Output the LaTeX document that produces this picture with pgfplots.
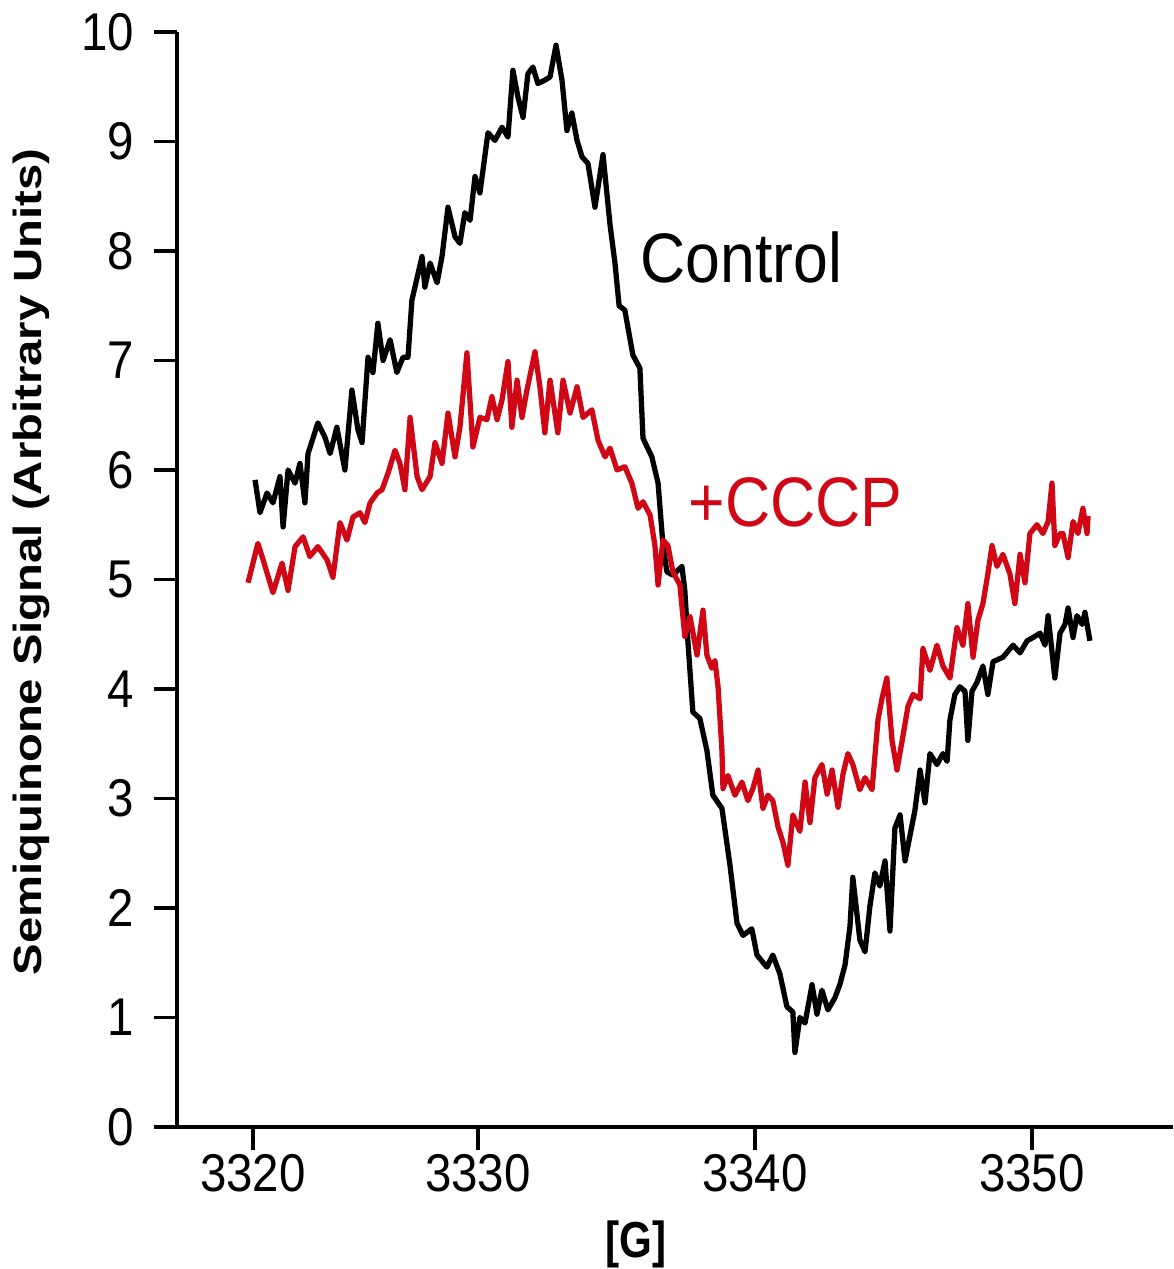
\documentclass[border=0pt]{standalone}
\usepackage{fontspec}
\setmainfont{Liberation Sans}
\usepackage{graphicx}
\usepackage{pgfplots}
\pgfplotsset{compat=1.18}
\definecolor{cccp}{RGB}{208,8,22}
\newcommand{\st}[1]{\scalebox{1}[1.12]{#1}}
\begin{document}
\begin{tikzpicture}
\begin{axis}[
  name=ax,
  scale only axis, width=9.96cm, height=10.95cm,
  xmin=3317.074, xmax=3355.43, ymin=0, ymax=10,
  axis x line*=bottom, axis y line*=left,
  axis line style={line width=1.1pt},
  every tick/.style={line width=1.1pt, black},
  tick align=outside, major tick length=2.3mm,
  xtick={3320,3328.664,3339.33,3350},
  xticklabels={\st{3320},\st{3330},\st{3340},\st{3350}},
  ytick={0,1,2,3,4,5,6,7,8,9,10},
  yticklabels={\st{0},\st{1},\st{2},\st{3},\st{4},\st{5},\st{6},\st{7},\st{8},\st{9},\st{10}},
  tick label style={font=\fontsize{13.5}{15}\selectfont, inner sep=0pt},
  yticklabel style={xshift=-1.9mm},
  xticklabel style={yshift=-0.4mm},
  every axis y label/.style={at={(axis description cs:-0.165,0.516)}, rotate=90, anchor=north, inner sep=0pt},
  ylabel={\scalebox{1.2}[1]{\fontsize{11.2}{13}\selectfont\bfseries Semiquinone Signal (Arbitrary Units)}},
  every axis x label/.style={at={(axis description cs:0.4608,0)}, anchor=north, yshift=-9.3mm, inner sep=0pt},
  xlabel={\scalebox{1}[1.2]{\fontsize{12}{14}\selectfont\bfseries [G]}},
  clip=false,
]
\addplot[black, line width=1.5pt, line join=round] coordinates {
(3320.08,5.91)(3320.27,5.61)(3320.54,5.79)(3320.77,5.70)(3321.04,5.94)(3321.16,5.48)(3321.35,6.00)(3321.62,5.88)(3321.81,6.06)(3322.00,5.70)(3322.12,6.15)(3322.50,6.43)(3322.77,6.30)(3322.97,6.15)(3323.23,6.39)(3323.54,6.00)(3323.81,6.73)(3324.04,6.37)(3324.20,6.25)(3324.43,7.03)(3324.62,6.89)(3324.81,7.34)(3325.01,7.00)(3325.28,7.19)(3325.54,6.89)(3325.78,7.03)(3325.97,7.03)(3326.12,7.55)(3326.51,7.95)(3326.62,7.67)(3326.82,7.89)(3327.09,7.71)(3327.28,7.95)(3327.51,8.40)(3327.78,8.13)(3327.97,8.07)(3328.16,8.35)(3328.36,8.28)(3328.55,8.68)(3328.74,8.53)(3329.05,9.08)(3329.32,9.01)(3329.59,9.13)(3329.82,9.04)(3330.01,9.65)(3330.20,9.41)(3330.40,9.22)(3330.59,9.62)(3330.78,9.68)(3330.97,9.53)(3331.24,9.56)(3331.44,9.59)(3331.67,9.88)(3331.90,9.56)(3332.09,9.10)(3332.28,9.26)(3332.48,9.01)(3332.67,8.86)(3332.90,8.80)(3333.17,8.40)(3333.48,8.88)(3333.75,8.24)(3333.94,7.89)(3334.10,7.50)(3334.32,7.46)(3334.63,7.05)(3334.90,6.93)(3335.02,6.29)(3335.36,6.12)(3335.60,5.88)(3335.79,5.31)(3335.94,5.07)(3336.17,5.04)(3336.52,5.12)(3336.63,4.90)(3336.75,4.43)(3336.94,3.79)(3337.21,3.73)(3337.48,3.44)(3337.71,3.03)(3338.06,2.91)(3338.37,2.39)(3338.64,1.86)(3338.87,1.75)(3339.21,1.81)(3339.41,1.57)(3339.79,1.46)(3340.02,1.57)(3340.29,1.40)(3340.56,1.10)(3340.79,1.05)(3340.87,0.68)(3341.06,1.00)(3341.26,0.95)(3341.53,1.30)(3341.72,1.03)(3341.91,1.25)(3342.14,1.07)(3342.41,1.18)(3342.60,1.30)(3342.80,1.48)(3342.99,1.83)(3343.10,2.28)(3343.37,1.71)(3343.57,1.60)(3343.76,2.02)(3343.95,2.32)(3344.14,2.20)(3344.34,2.43)(3344.53,1.79)(3344.72,2.73)(3344.92,2.85)(3345.11,2.43)(3345.30,2.66)(3345.49,2.89)(3345.69,3.26)(3345.88,2.96)(3346.07,3.41)(3346.34,3.31)(3346.57,3.41)(3346.73,3.34)(3346.84,3.72)(3347.03,3.95)(3347.22,4.02)(3347.42,3.98)(3347.53,3.53)(3347.69,3.98)(3347.88,4.06)(3348.11,4.21)(3348.30,3.95)(3348.50,4.25)(3348.88,4.29)(3349.27,4.40)(3349.54,4.33)(3349.81,4.44)(3350.04,4.47)(3350.31,4.51)(3350.50,4.40)(3350.62,4.67)(3350.88,4.10)(3351.08,4.51)(3351.27,4.59)(3351.39,4.74)(3351.58,4.47)(3351.73,4.67)(3351.93,4.59)(3352.04,4.70)(3352.23,4.44)
};
\addplot[cccp, line width=1.5pt, line join=round] coordinates {
(3319.81,4.97)(3320.19,5.33)(3320.39,5.18)(3320.77,4.88)(3321.12,5.15)(3321.35,4.90)(3321.62,5.30)(3321.93,5.39)(3322.19,5.21)(3322.50,5.30)(3322.85,5.18)(3323.08,5.02)(3323.35,5.52)(3323.62,5.36)(3323.85,5.57)(3324.12,5.61)(3324.31,5.52)(3324.51,5.70)(3324.78,5.79)(3324.97,5.82)(3325.20,5.97)(3325.47,6.18)(3325.66,6.06)(3325.85,5.82)(3326.05,6.48)(3326.32,5.94)(3326.51,5.82)(3326.82,5.94)(3327.01,6.25)(3327.28,6.06)(3327.51,6.52)(3327.78,6.12)(3327.97,6.39)(3328.24,7.07)(3328.47,6.21)(3328.74,6.48)(3329.01,6.46)(3329.20,6.67)(3329.40,6.46)(3329.59,6.64)(3329.82,6.99)(3329.97,6.39)(3330.17,6.82)(3330.36,6.48)(3330.55,6.73)(3330.86,7.08)(3331.05,6.76)(3331.24,6.34)(3331.44,6.82)(3331.74,6.34)(3331.94,6.82)(3332.21,6.52)(3332.48,6.76)(3332.71,6.48)(3333.05,6.55)(3333.29,6.27)(3333.56,6.12)(3333.75,6.20)(3334.02,6.00)(3334.32,6.03)(3334.59,5.88)(3334.83,5.65)(3335.02,5.71)(3335.29,5.59)(3335.48,5.31)(3335.60,4.95)(3335.79,5.36)(3335.98,5.31)(3336.17,5.07)(3336.44,4.95)(3336.63,4.48)(3336.83,4.66)(3337.10,4.31)(3337.33,4.72)(3337.48,4.31)(3337.67,4.19)(3337.79,4.26)(3337.91,4.02)(3338.06,3.44)(3338.10,3.09)(3338.29,3.21)(3338.56,3.03)(3338.83,3.15)(3339.06,2.98)(3339.25,3.09)(3339.45,3.26)(3339.64,2.91)(3339.83,3.03)(3340.02,2.98)(3340.22,2.74)(3340.41,2.60)(3340.60,2.39)(3340.79,2.85)(3341.06,2.70)(3341.26,3.15)(3341.45,2.78)(3341.64,3.19)(3341.91,3.31)(3342.11,3.04)(3342.30,3.26)(3342.53,2.92)(3342.72,3.22)(3342.91,3.41)(3343.10,3.31)(3343.37,3.08)(3343.57,3.19)(3343.84,3.08)(3344.07,3.72)(3344.22,3.91)(3344.41,4.10)(3344.61,3.53)(3344.80,3.26)(3345.03,3.57)(3345.22,3.84)(3345.42,3.95)(3345.69,3.91)(3345.80,4.37)(3346.07,4.17)(3346.34,4.40)(3346.57,4.21)(3346.84,4.10)(3347.11,4.56)(3347.34,4.40)(3347.53,4.78)(3347.73,4.29)(3347.92,4.63)(3348.11,4.78)(3348.30,5.05)(3348.46,5.31)(3348.65,5.12)(3348.88,5.23)(3349.15,5.05)(3349.34,4.78)(3349.54,5.23)(3349.73,4.97)(3349.92,5.42)(3350.19,5.50)(3350.42,5.42)(3350.62,5.53)(3350.77,5.88)(3350.88,5.31)(3351.08,5.42)(3351.19,5.42)(3351.39,5.20)(3351.58,5.53)(3351.77,5.42)(3351.96,5.65)(3352.12,5.42)(3352.16,5.58)
};
\node[anchor=base west, inner sep=0pt, font=\fontsize{17.8}{20}\selectfont] at (axis cs:3334.90,7.71) {\scalebox{1}[1.12]{Control}};
\node[anchor=base west, inner sep=0pt, font=\fontsize{17.8}{20}\selectfont, text=cccp] at (axis cs:3336.75,5.48) {\scalebox{1}[1.12]{+CCCP}};
\end{axis}
\pgfresetboundingbox
\path ([xshift=-1.77cm,yshift=-1.42cm]ax.south west) rectangle ([yshift=0.32cm]ax.north east);
\end{tikzpicture}
\end{document}
